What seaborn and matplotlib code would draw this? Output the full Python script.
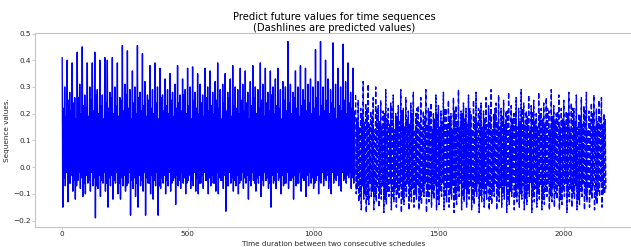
import numpy as np
import matplotlib
matplotlib.use("Agg")
import matplotlib.pyplot as plt
import seaborn as sns

# ── Data (local peaks / troughs) ──────────────────────────
STEP = 2.5          # time units between plotted samples
PRED_START = 1170   # first predicted time step

# big swings (envelope) and the smaller swings in between
OBS_PEAKS = [
    0.41, 0.30, 0.40, 0.28, 0.39, 0.26, 0.43, 0.31, 0.45, 0.27,
    0.39, 0.30, 0.39, 0.43, 0.29, 0.40, 0.27, 0.41, 0.40, 0.28,
    0.41, 0.30, 0.39, 0.26, 0.455, 0.31, 0.435, 0.29, 0.36, 0.30,
    0.455, 0.28, 0.425, 0.32, 0.27, 0.38, 0.29, 0.39, 0.30, 0.37,
    0.27, 0.33, 0.29, 0.35, 0.28, 0.31, 0.38, 0.27, 0.33, 0.29,
    0.37, 0.30, 0.375, 0.28, 0.35, 0.31, 0.27, 0.37, 0.30, 0.36,
    0.28, 0.32, 0.39, 0.29, 0.31, 0.35, 0.28, 0.33, 0.38, 0.30,
    0.29, 0.37, 0.31, 0.36, 0.28, 0.32, 0.38, 0.30, 0.29, 0.39,
    0.31, 0.37, 0.28, 0.36, 0.30, 0.33, 0.37, 0.29, 0.32, 0.30,
    0.47, 0.31, 0.28, 0.36, 0.30, 0.38, 0.29, 0.37, 0.31, 0.33,
    0.30, 0.44, 0.32, 0.47, 0.30, 0.40, 0.33, 0.29, 0.465, 0.31,
    0.37, 0.30, 0.46, 0.32, 0.39, 0.28, 0.37,
]
OBS_TROUGHS = [
    -0.15, -0.07, -0.13, -0.06, -0.09, -0.12, -0.05, -0.08, -0.11, -0.10,
    -0.06, -0.09, -0.07, -0.19, -0.08, -0.11, -0.06, -0.09, -0.15, -0.07,
    -0.12, -0.06, -0.10, -0.12, -0.07, -0.09, -0.06, -0.18, -0.08, -0.11,
    -0.15, -0.07, -0.09, -0.18, -0.06, -0.10, -0.12, -0.07, -0.18, -0.08,
    -0.06, -0.10, -0.07, -0.09, -0.05, -0.14, -0.07, -0.08, -0.06, -0.10,
    -0.05, -0.08, -0.07, -0.09, -0.10, -0.06, -0.08, -0.05, -0.10, -0.07,
    -0.06, -0.09, -0.10, -0.05, -0.08, -0.165, -0.07, -0.06, -0.09, -0.07,
    -0.10, -0.05, -0.08, -0.06, -0.12, -0.07, -0.05, -0.09, -0.06, -0.11,
    -0.07, -0.05, -0.08, -0.15, -0.06, -0.08, -0.05, -0.10, -0.07, -0.06,
    -0.08, -0.05, -0.12, -0.07, -0.06, -0.09, -0.05, -0.11, -0.07, -0.06,
    -0.08, -0.05, -0.10, -0.06, -0.07, -0.05, -0.08, -0.10, -0.06, -0.05,
    -0.07, -0.09, -0.05, -0.06, -0.04, -0.08, -0.06,
]
OBS_MINOR_PEAKS = [
    0.22, 0.19, 0.25, 0.21, 0.24, 0.18, 0.26, 0.20, 0.23, 0.22,
    0.19, 0.25, 0.21, 0.27, 0.20, 0.23, 0.18, 0.24, 0.22, 0.26,
    0.20, 0.23, 0.19, 0.25, 0.21, 0.27, 0.22, 0.18, 0.24, 0.20,
    0.26, 0.21, 0.23, 0.19, 0.25, 0.22, 0.20, 0.24, 0.18, 0.26,
    0.21, 0.23, 0.20, 0.25, 0.19, 0.22, 0.24, 0.21, 0.27, 0.20,
    0.23, 0.18, 0.25, 0.22, 0.20, 0.24, 0.19, 0.26, 0.21, 0.23,
    0.20, 0.25, 0.22, 0.18, 0.24, 0.21, 0.26, 0.19, 0.23, 0.22,
    0.20, 0.25, 0.21, 0.24, 0.18, 0.23, 0.26, 0.20, 0.22, 0.25,
    0.19, 0.24, 0.21, 0.27, 0.20, 0.23, 0.22, 0.18, 0.25, 0.21,
    0.24, 0.20, 0.26, 0.22, 0.19, 0.23, 0.25, 0.21, 0.24, 0.20,
    0.22, 0.26, 0.19, 0.23, 0.21, 0.25, 0.20, 0.24, 0.22, 0.18,
    0.23, 0.21, 0.25, 0.20, 0.24, 0.22, 0.21,
]
OBS_MINOR_TROUGHS = [
    -0.04, -0.02, -0.06, -0.03, -0.05, -0.07, -0.02, -0.04, -0.06, -0.03,
    -0.05, -0.02, -0.04, -0.07, -0.03, -0.05, -0.02, -0.06, -0.04, -0.03,
    -0.05, -0.02, -0.06, -0.04, -0.03, -0.07, -0.02, -0.05, -0.04, -0.06,
    -0.03, -0.05, -0.02, -0.04, -0.06, -0.03, -0.05, -0.02, -0.07, -0.04,
    -0.03, -0.05, -0.02, -0.06, -0.04, -0.03, -0.05, -0.02, -0.04, -0.06,
    -0.03, -0.05, -0.02, -0.04, -0.06, -0.03, -0.02, -0.05, -0.04, -0.03,
    -0.06, -0.02, -0.04, -0.05, -0.03, -0.07, -0.02, -0.04, -0.05, -0.03,
    -0.06, -0.02, -0.04, -0.03, -0.05, -0.02, -0.06, -0.04, -0.03, -0.05,
    -0.02, -0.04, -0.06, -0.03, -0.05, -0.02, -0.04, -0.03, -0.06, -0.02,
    -0.05, -0.04, -0.03, -0.06, -0.02, -0.04, -0.05, -0.03, -0.02, -0.04,
    -0.06, -0.03, -0.05, -0.02, -0.04, -0.03, -0.05, -0.02, -0.04, -0.03,
    -0.05, -0.02, -0.04, -0.03, -0.02, -0.04, -0.03,
]
PRED_PEAKS = [
    0.27, 0.25, 0.22, 0.32, 0.24, 0.31, 0.21, 0.26, 0.30, 0.23,
    0.25, 0.21, 0.29, 0.22, 0.24, 0.27, 0.20, 0.23, 0.29, 0.22,
    0.26, 0.21, 0.24, 0.28, 0.20, 0.23, 0.26, 0.21, 0.29, 0.22,
    0.24, 0.20, 0.27, 0.23, 0.21, 0.28, 0.22, 0.25, 0.20, 0.26,
    0.23, 0.29, 0.21, 0.24, 0.22, 0.27, 0.20, 0.25, 0.28, 0.22,
    0.24, 0.21, 0.26, 0.23, 0.29, 0.20, 0.24, 0.27, 0.22, 0.25,
    0.21, 0.28, 0.23, 0.20, 0.26, 0.22, 0.29, 0.24, 0.21, 0.27,
    0.23, 0.25, 0.20, 0.28, 0.22, 0.24, 0.26, 0.21, 0.29, 0.23,
    0.20, 0.27, 0.22, 0.25, 0.21, 0.28, 0.24, 0.22, 0.27, 0.20,
    0.26, 0.23, 0.28, 0.21, 0.24, 0.27, 0.22, 0.25, 0.26, 0.20,
]
PRED_TROUGHS = [
    -0.10, -0.13, -0.16, -0.12, -0.17, -0.14, -0.11, -0.16, -0.13, -0.15,
    -0.12, -0.17, -0.14, -0.11, -0.16, -0.13, -0.15, -0.12, -0.17, -0.14,
    -0.11, -0.16, -0.13, -0.15, -0.12, -0.16, -0.14, -0.11, -0.17, -0.13,
    -0.15, -0.12, -0.16, -0.14, -0.11, -0.16, -0.13, -0.15, -0.12, -0.17,
    -0.14, -0.11, -0.16, -0.13, -0.15, -0.12, -0.16, -0.14, -0.11, -0.17,
    -0.13, -0.15, -0.12, -0.16, -0.14, -0.11, -0.16, -0.13, -0.15, -0.12,
    -0.17, -0.14, -0.11, -0.16, -0.13, -0.15, -0.12, -0.16, -0.14, -0.11,
    -0.17, -0.13, -0.15, -0.12, -0.16, -0.14, -0.11, -0.16, -0.13, -0.15,
    -0.12, -0.16, -0.14, -0.11, -0.17, -0.13, -0.15, -0.12, -0.16, -0.14,
    -0.11, -0.16, -0.13, -0.15, -0.12, -0.16, -0.14, -0.11, -0.15, -0.10,
]
PRED_MINOR_PEAKS = [
    0.18, 0.15, 0.20, 0.17, 0.22, 0.16, 0.19, 0.14, 0.21, 0.17,
    0.15, 0.20, 0.18, 0.16, 0.22, 0.14, 0.19, 0.17, 0.21, 0.15,
    0.18, 0.16, 0.20, 0.14, 0.22, 0.17, 0.15, 0.19, 0.16, 0.21,
    0.14, 0.18, 0.20, 0.15, 0.17, 0.22, 0.16, 0.19, 0.14, 0.21,
    0.17, 0.15, 0.20, 0.18, 0.16, 0.22, 0.14, 0.19, 0.17, 0.21,
    0.15, 0.18, 0.16, 0.20, 0.14, 0.22, 0.17, 0.15, 0.19, 0.16,
    0.21, 0.14, 0.18, 0.20, 0.15, 0.17, 0.22, 0.16, 0.19, 0.14,
    0.21, 0.17, 0.15, 0.20, 0.18, 0.16, 0.22, 0.14, 0.19, 0.17,
    0.21, 0.15, 0.18, 0.16, 0.20, 0.14, 0.22, 0.17, 0.15, 0.19,
    0.16, 0.21, 0.14, 0.18, 0.20, 0.15, 0.17, 0.19, 0.16, 0.18,
]
PRED_MINOR_TROUGHS = [
    -0.08, -0.11, -0.07, -0.10, -0.12, -0.06, -0.09, -0.11, -0.08, -0.10,
    -0.07, -0.12, -0.09, -0.06, -0.11, -0.08, -0.10, -0.07, -0.12, -0.09,
    -0.06, -0.11, -0.08, -0.10, -0.07, -0.12, -0.09, -0.06, -0.11, -0.08,
    -0.10, -0.07, -0.12, -0.09, -0.06, -0.11, -0.08, -0.10, -0.07, -0.12,
    -0.09, -0.06, -0.11, -0.08, -0.10, -0.07, -0.12, -0.09, -0.06, -0.11,
    -0.08, -0.10, -0.07, -0.12, -0.09, -0.06, -0.11, -0.08, -0.10, -0.07,
    -0.12, -0.09, -0.06, -0.11, -0.08, -0.10, -0.07, -0.12, -0.09, -0.06,
    -0.11, -0.08, -0.10, -0.07, -0.12, -0.09, -0.06, -0.11, -0.08, -0.10,
    -0.07, -0.12, -0.09, -0.06, -0.11, -0.08, -0.10, -0.07, -0.12, -0.09,
    -0.06, -0.11, -0.08, -0.10, -0.07, -0.12, -0.09, -0.06, -0.10, -0.08,
]

TITLE  = "Predict future values for time sequences\n(Dashlines are predicted values)"
XLABEL = "Time duration between two consecutive schedules"
YLABEL = "Sequence values."

# ── Style ─────────────────────────────────────────────────
SPINE = "#c4c4c4"
TEXT  = "#262626"

sns.set_style("white")
plt.rcParams.update({
    "font.family"      : ["DejaVu Sans"],
    "axes.edgecolor"   : SPINE,
    "axes.linewidth"   : 0.8,
    "xtick.bottom"     : True,
    "ytick.left"       : True,
    "xtick.color"      : SPINE,
    "ytick.color"      : SPINE,
    "xtick.labelcolor" : TEXT,
    "ytick.labelcolor" : TEXT,
    "xtick.major.size" : 2,
    "ytick.major.size" : 2,
    "xtick.major.width": 0.6,
    "ytick.major.width": 0.6,
    "xtick.major.pad"  : 0.8,
    "ytick.major.pad"  : 1.0,
})


def series(peaks, troughs, minor_peaks, minor_troughs, start):
    y = np.column_stack((peaks, troughs, minor_peaks, minor_troughs)).ravel()
    x = start + np.arange(len(y)) * STEP
    return x, y


x_obs, y_obs = series(OBS_PEAKS, OBS_TROUGHS,
                      OBS_MINOR_PEAKS, OBS_MINOR_TROUGHS, 0)
x_pred, y_pred = series(PRED_PEAKS, PRED_TROUGHS,
                        PRED_MINOR_PEAKS, PRED_MINOR_TROUGHS, PRED_START)

fig = plt.figure(figsize=(6.31, 2.47), dpi=100)
ax = fig.add_axes([35 / 631, 20.3 / 247, 598 / 631, 194 / 247])

sns.lineplot(x=x_obs, y=y_obs, ax=ax, color="blue", lw=1.0,
             estimator=None, sort=False)
sns.lineplot(x=x_pred, y=y_pred, ax=ax, color="blue", lw=1.0,
             linestyle="--", estimator=None, sort=False)

ax.set_title(TITLE, fontsize=7.2, color="black", pad=1.5, linespacing=1.05)
ax.set_xlabel(XLABEL, fontsize=5.2, color=TEXT)
ax.xaxis.set_label_coords(0.5, -0.072)
ax.set_ylabel(YLABEL, fontsize=5.2, color=TEXT)
ax.yaxis.set_label_coords(-0.042, 0.5)
ax.tick_params(labelsize=5.2, labelcolor=TEXT)
ax.set_xticks([0, 500, 1000, 1500, 2000])
ax.set_yticks([-0.2, -0.1, 0.0, 0.1, 0.2, 0.3, 0.4, 0.5])

fig.savefig("out.png", dpi=100)
plt.close(fig)
